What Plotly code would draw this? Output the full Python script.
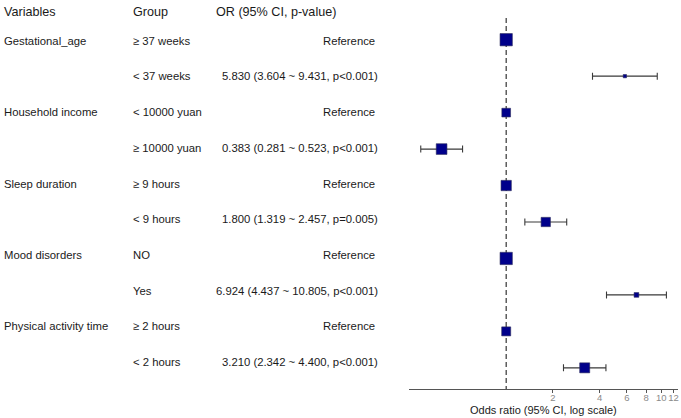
import math
import plotly.graph_objects as go

# ---------------- data ----------------
variables = ["Gestational_age", "", "Household income", "", "Sleep duration", "",
             "Mood disorders", "", "Physical activity time", ""]
groups = ["≥ 37 weeks", "< 37 weeks", "< 10000 yuan", "≥ 10000 yuan", "≥ 9 hours",
          "< 9 hours", "NO", "Yes", "≥ 2 hours", "< 2 hours"]
odds_ratio = [1, 5.830, 1, 0.383, 1, 1.800, 1, 6.924, 1, 3.210]
ci_low = [None, 3.604, None, 0.281, None, 1.319, None, 4.437, None, 2.342]
ci_high = [None, 9.431, None, 0.523, None, 2.457, None, 10.805, None, 4.400]
p_values = [None, "p<0.001", None, "p<0.001", None, "p=0.005", None, "p<0.001", None, "p<0.001"]
box_size = [12.3, 3.3, 8.7, 10.7, 10.3, 9.3, 12.3, 4.7, 9.0, 10.0]
tick_values = [2, 4, 6, 8, 10, 12]
headers = ["Variables", "Group", "OR (95% CI, p-value)"]
x_title = "Odds ratio (95% CI, log scale)"

# ---------------- layout geometry ----------------
W, H = 681, 418
FONT = "Liberation Sans, Arial, sans-serif"
rows = list(range(len(groups)))
row0_px, row_step_px = 39.7, 36.46
axis_bottom_px = 389
y_bottom = (axis_bottom_px - row0_px) / row_step_px
y_top = -row0_px / row_step_px

def row_of_px(px):
    return (px - row0_px) / row_step_px

labels = []
for o, lo, hi, p in zip(odds_ratio, ci_low, ci_high, p_values):
    if lo is None:
        labels.append("Reference")
    else:
        labels.append(f"{o:.3f} ({lo:.3f} ~ {hi:.3f}, {p})")

fig = go.Figure()

# reference dashed line at OR = 1
fig.add_trace(go.Scatter(
    x=[1, 1], y=[row_of_px(18), y_bottom], mode="lines",
    line=dict(color="#444444", width=1.3, dash="5px,3px"),
    hoverinfo="skip", showlegend=False))

marker_style = dict(symbol="square", color="#00008B", opacity=1,
                    line=dict(color="#2a2a5a", width=0.6))

# estimates with CI
est_idx = [i for i in rows if ci_low[i] is not None]
fig.add_trace(go.Scatter(
    x=[odds_ratio[i] for i in est_idx],
    y=[rows[i] for i in est_idx],
    mode="markers",
    marker=dict(size=[box_size[i] for i in est_idx], **marker_style),
    error_x=dict(type="data", symmetric=False,
                 array=[ci_high[i] - odds_ratio[i] for i in est_idx],
                 arrayminus=[odds_ratio[i] - ci_low[i] for i in est_idx],
                 color="#3a3a3a", thickness=1.1, width=3.5),
    showlegend=False))

# reference rows
ref_idx = [i for i in rows if ci_low[i] is None]
fig.add_trace(go.Scatter(
    x=[odds_ratio[i] for i in ref_idx],
    y=[rows[i] for i in ref_idx],
    mode="markers",
    marker=dict(size=[box_size[i] for i in ref_idx], **marker_style),
    showlegend=False))

# ---------------- text columns ----------------
ann = []
def add_text(txt, x_px, y_row, anchor, size, color="#1a1a1a"):
    ann.append(dict(text=txt, x=x_px / W, xref="paper", y=y_row, yref="y",
                    xanchor=anchor, yanchor="middle", showarrow=False,
                    borderpad=0, borderwidth=0,
                    font=dict(family=FONT, size=size, color=color)))

hdr_row = row_of_px(12.3)
add_text(headers[0], 3.5, hdr_row, "left", 12.6)
add_text(headers[1], 132.7, hdr_row, "left", 12.6)
add_text(headers[2], 215.7, hdr_row, "left", 12.6)

for i in rows:
    ty = row_of_px(40.7 + 35.7 * i)
    if variables[i]:
        add_text(variables[i], 3.5, ty, "left", 11.3)
    add_text(groups[i], 132.7, ty, "left", 11.3)
    if labels[i] == "Reference":
        add_text(labels[i], 374.5, ty, "right", 11.3)
    else:
        add_text(labels[i], 378, ty, "right", 11.3)

# axis title
ann.append(dict(text=x_title, x=543.5 / W, xref="paper", y=(H - 409.5) / H, yref="paper",
                xanchor="center", yanchor="middle", showarrow=False, borderpad=0,
                font=dict(family=FONT, size=11, color="#1a1a1a")))

ref_px, px_per_dec = 506.2, 155.0
fig.update_layout(
    width=W, height=H,
    margin=dict(l=0, r=0, t=0, b=0, autoexpand=False),
    paper_bgcolor="white", plot_bgcolor="white",
    showlegend=False,
    annotations=ann,
    xaxis=dict(type="log",
               domain=[409 / W, 678 / W],
               range=[(409 - ref_px) / px_per_dec, (678 - ref_px) / px_per_dec],
               tickvals=tick_values, ticktext=[str(v) for v in tick_values],
               tickangle=0, ticklabelstandoff=-3,
               showgrid=False, zeroline=False,
               showline=True, linecolor="#555555", linewidth=1,
               ticks="outside", ticklen=3, tickcolor="#555555", tickwidth=1,
               tickfont=dict(family=FONT, size=9.5, color="#8a8a8a")),
    yaxis=dict(range=[y_bottom, y_top],
               domain=[(H - axis_bottom_px) / H, 1],
               visible=False, showgrid=False, zeroline=False),
)

fig.write_html("out.html",
               config={"displayModeBar": False},
               post_script="document.body.style.margin='0';document.body.style.overflow='hidden';")
